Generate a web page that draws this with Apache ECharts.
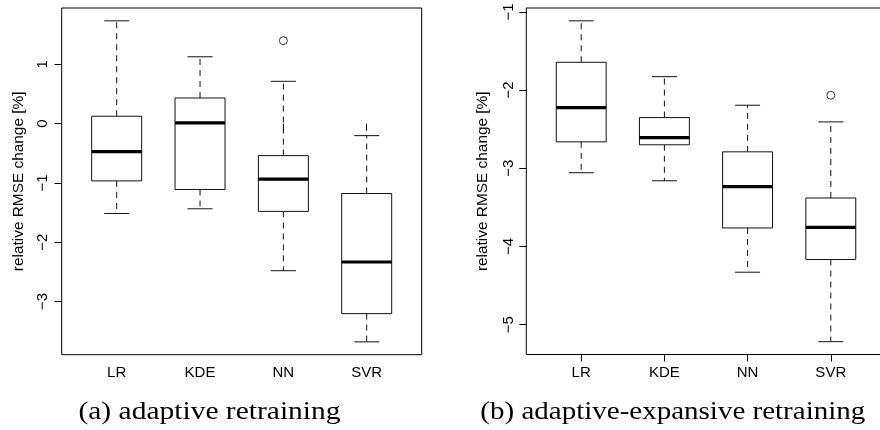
<!DOCTYPE html>
<html>
<head>
<meta charset="utf-8">
<script src="https://cdn.jsdelivr.net/npm/echarts@6/dist/echarts.min.js"></script>
<style>html,body{margin:0;padding:0;background:#fff}#c{width:880px;height:430px}</style>
</head>
<body>
<div id="c"></div>
<script>
const categories = ['LR', 'KDE', 'NN', 'SVR'];

// (a) adaptive retraining
const adaptiveLower  = [-1.515, -1.436, -2.48, -3.68];
const adaptiveQ1     = [-0.965, -1.11, -1.48, -3.204];
const adaptiveMedian = [-0.47, 0.012, -0.937, -2.333];
const adaptiveQ3     = [0.125, 0.433, -0.539, -1.178];
const adaptiveUpper  = [1.734, 1.128, 0.714, -0.202];
const adaptiveOutlierCats = ['NN'];
const adaptiveOutlierVals = [1.40];
const adaptiveTicks = [-3, -2, -1, 0, 1];

// (b) adaptive-expansive retraining
const expansiveLower  = [-3.057, -3.16, -4.329, -5.217];
const expansiveQ1     = [-2.662, -2.70, -3.763, -4.167];
const expansiveMedian = [-2.224, -2.607, -3.236, -3.755];
const expansiveQ3     = [-1.645, -2.352, -2.79, -3.38];
const expansiveUpper  = [-1.115, -1.829, -2.194, -2.407];
const expansiveOutlierCats = ['SVR'];
const expansiveOutlierVals = [-2.066];
const expansiveTicks = [-5, -4, -3, -2, -1];

const yTitle = 'relative RMSE change [%]';
const captionA = '(a) adaptive retraining';
const captionB = '(b) adaptive-expansive retraining';

const SANS = 'Liberation Sans';
const FS = 15;
const catPos = categories.map((c, i) => i + 1);

function rLim(lo, hi) {
  const r = hi - lo;
  return [lo - 0.04 * r, hi + 0.04 * r];
}

function boxData(lo, q1, md, q3, hi) {
  return categories.map((c, i) => [i + 1, lo[i], q1[i], md[i], q3[i], hi[i]]);
}
function outData(cats, vals) {
  return cats.map((c, i) => [categories.indexOf(c) + 1, vals[i]]);
}

function renderBox(params, api) {
  const x = api.value(0);
  const lo = api.coord([x, api.value(1)]);
  const q1 = api.coord([x, api.value(2)]);
  const md = api.coord([x, api.value(3)]);
  const q3 = api.coord([x, api.value(4)]);
  const hi = api.coord([x, api.value(5)]);
  const boxW = api.size([0.6, 0])[0];
  const capW = boxW / 2;
  const cx = lo[0];
  const st = { stroke: '#111', lineWidth: 1, fill: null };
  const dash = { stroke: '#111', lineWidth: 1, lineDash: [6, 5] };
  return {
    type: 'group',
    children: [
      { type: 'line', shape: { x1: cx, y1: q3[1], x2: cx, y2: hi[1] }, style: dash },
      { type: 'line', shape: { x1: cx, y1: q1[1], x2: cx, y2: lo[1] }, style: dash },
      { type: 'line', shape: { x1: cx - capW / 2, y1: hi[1], x2: cx + capW / 2, y2: hi[1] }, style: st },
      { type: 'line', shape: { x1: cx - capW / 2, y1: lo[1], x2: cx + capW / 2, y2: lo[1] }, style: st },
      { type: 'rect', shape: { x: cx - boxW / 2, y: q3[1], width: boxW, height: q1[1] - q3[1] },
        style: { fill: '#fff', stroke: '#111', lineWidth: 1 } },
      { type: 'line', shape: { x1: cx - boxW / 2, y1: md[1], x2: cx + boxW / 2, y2: md[1] },
        style: { stroke: '#000', lineWidth: 3.2 } }
    ]
  };
}

const minus = v => String(v).replace('-', '\u2212');

function xAxisDef(gi) {
  return {
    type: 'value', gridIndex: gi, min: 0.34, max: 4.66,
    axisLine: { show: false }, splitLine: { show: false },
    axisTick: { show: true, length: 7, customValues: catPos, lineStyle: { color: '#000', width: 1 } },
    axisLabel: { show: true, customValues: catPos, margin: 11, color: '#000', fontFamily: SANS, fontSize: FS,
      formatter: v => categories[Math.round(v) - 1] || '' }
  };
}
function yAxisDef(gi, lim, ticks, gap, margin) {
  return {
    type: 'value', gridIndex: gi, min: lim[0], max: lim[1],
    axisLine: { show: false }, splitLine: { show: false },
    axisTick: { show: true, length: 7, customValues: ticks, lineStyle: { color: '#000', width: 1 } },
    axisLabel: { show: true, customValues: ticks, rotate: 90, margin: margin, color: '#000', fontFamily: SANS, fontSize: FS,
      formatter: v => minus(v) },
    name: yTitle, nameLocation: 'middle', nameRotate: 90, nameGap: gap,
    nameTextStyle: { color: '#000', fontFamily: SANS, fontSize: 15.4 }
  };
}

const allA = adaptiveLower.concat(adaptiveUpper, adaptiveOutlierVals);
const allB = expansiveLower.concat(expansiveUpper, expansiveOutlierVals);
const limA = rLim(Math.min(...allA), Math.max(...allA));
const limB = rLim(Math.min(...allB), Math.max(...allB));

const chart = echarts.init(document.getElementById('c'), null, { renderer: 'canvas' });
chart.setOption({
  animation: false,
  backgroundColor: '#fff',
  grid: [
    { left: 61.7, top: 8, width: 360, height: 346.7, show: true, borderColor: '#000', borderWidth: 1,
      backgroundColor: 'transparent', containLabel: false, outerBoundsMode: 'none' },
    { left: 526.3, top: 8, width: 359.4, height: 346.5, show: true, borderColor: '#000', borderWidth: 1,
      backgroundColor: 'transparent', containLabel: false, outerBoundsMode: 'none' }
  ],
  xAxis: [xAxisDef(0), xAxisDef(1)],
  yAxis: [yAxisDef(0, limA, adaptiveTicks, 35, 11.5), yAxisDef(1, limB, expansiveTicks, 36, 9.5)],
  series: [
    { type: 'custom', xAxisIndex: 0, yAxisIndex: 0, renderItem: renderBox,
      encode: { x: 0, y: [1, 2, 3, 4, 5] }, clip: false,
      data: boxData(adaptiveLower, adaptiveQ1, adaptiveMedian, adaptiveQ3, adaptiveUpper) },
    { type: 'scatter', xAxisIndex: 0, yAxisIndex: 0, symbol: 'circle', symbolSize: 8,
      itemStyle: { color: '#fff', borderColor: '#000', borderWidth: 1 },
      data: outData(adaptiveOutlierCats, adaptiveOutlierVals) },
    { type: 'custom', xAxisIndex: 1, yAxisIndex: 1, renderItem: renderBox,
      encode: { x: 0, y: [1, 2, 3, 4, 5] }, clip: false,
      data: boxData(expansiveLower, expansiveQ1, expansiveMedian, expansiveQ3, expansiveUpper) },
    { type: 'scatter', xAxisIndex: 1, yAxisIndex: 1, symbol: 'circle', symbolSize: 8,
      itemStyle: { color: '#fff', borderColor: '#000', borderWidth: 1 },
      data: outData(expansiveOutlierCats, expansiveOutlierVals) }
  ],
  graphic: [
    { type: 'text', x: 209.5, y: 412, scaleX: 1.18,
      style: { text: captionA, font: '25px "Liberation Serif"', fill: '#000', align: 'center', verticalAlign: 'middle' } },
    { type: 'text', x: 672.8, y: 412, scaleX: 1.16,
      style: { text: captionB, font: '25px "Liberation Serif"', fill: '#000', align: 'center', verticalAlign: 'middle' } }
  ]
});
</script>
</body>
</html>
